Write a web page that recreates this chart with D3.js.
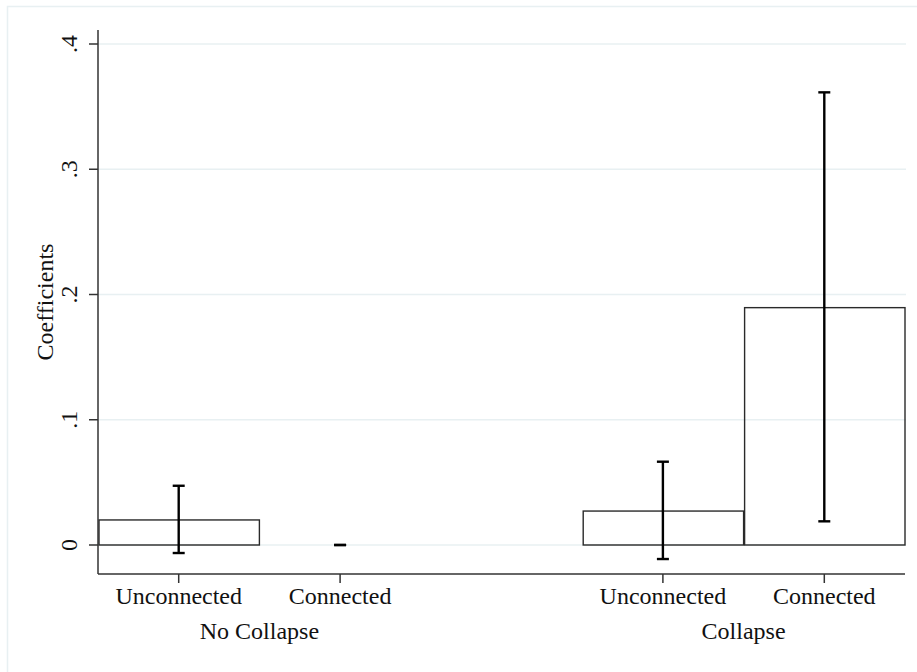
<!DOCTYPE html>
<html>
<head>
<meta charset="utf-8">
<script src="https://cdn.jsdelivr.net/npm/d3@7"></script>
<style>
  body { margin: 0; background: #fff; }
  text { font-family: "Liberation Serif", serif; fill: #111; }
</style>
</head>
<body>
<svg id="chart"></svg>
<script>
// data
var groups = ["No Collapse", "Collapse"];
var categories = ["Unconnected", "Connected"];
var slots = ["nc_u", "nc_c", "gap", "c_u", "c_c"];
var barSlots = ["nc_u", "nc_c", "c_u", "c_c"];
var barGroup = [0, 0, 1, 1];
var coefs = [0.020, 0.0, 0.0271, 0.1895];
var ciLow = [-0.0064, 0.0, -0.0112, 0.0189];
var ciHigh = [0.0473, 0.0, 0.0665, 0.3614];
var yTicks = [0, 0.1, 0.2, 0.3, 0.4];
var yTickLabels = ["0", ".1", ".2", ".3", ".4"];

var w = 917;
var h = 672;
var fontSize = "24px";

var svg = d3.select("#chart")
            .attr("width", w)
            .attr("height", h);

// outer frame (runs off right and bottom like the original)
svg.append("rect")
   .attr("x", 7.5)
   .attr("y", 6.5)
   .attr("width", w)
   .attr("height", h)
   .attr("fill", "none")
   .attr("stroke", "#e8f0f2")
   .attr("stroke-width", 1.5);

var plotLeft = 98, plotRight = 905, plotTop = 30, plotBottom = 574;

var x = d3.scaleBand()
          .domain(slots)
          .range([plotLeft, plotRight])
          .padding(0);

var y = d3.scaleLinear()
          .domain([0, 0.4])
          .range([545, 44]);

// gridlines
svg.append("g")
   .selectAll("line")
   .data(yTicks)
   .enter()
   .append("line")
   .attr("x1", plotLeft)
   .attr("x2", plotRight + 1)
   .attr("y1", function(d){ return y(d); })
   .attr("y2", function(d){ return y(d); })
   .attr("stroke", "#e8f0f2")
   .attr("stroke-width", 1.5);

// bars
svg.append("g")
   .selectAll("rect")
   .data(coefs)
   .enter()
   .append("rect")
   .attr("x", function(d, i){ return x(barSlots[i]) + 1; })
   .attr("width", function(d){ return d > 0 ? x.bandwidth() - 1 : 0; })
   .attr("y", function(d){ return y(d); })
   .attr("height", function(d){ return y(0) - y(d); })
   .attr("fill", "none")
   .attr("stroke", function(d){ return d > 0 ? "#2a2a2a" : "none"; })
   .attr("stroke-width", 1.4);

// error bars
var cap = 6;
var eb = svg.append("g")
            .attr("stroke", "#000")
            .attr("stroke-width", 2.4);

coefs.forEach(function(d, i){
  var cx = x(barSlots[i]) + x.bandwidth() / 2;
  eb.append("line")
    .attr("x1", cx).attr("x2", cx)
    .attr("y1", y(ciLow[i])).attr("y2", y(ciHigh[i]));
  eb.append("line")
    .attr("x1", cx - cap).attr("x2", cx + cap)
    .attr("y1", y(ciHigh[i])).attr("y2", y(ciHigh[i]));
  eb.append("line")
    .attr("x1", cx - cap).attr("x2", cx + cap)
    .attr("y1", y(ciLow[i])).attr("y2", y(ciLow[i]));
});

// y axis
svg.append("line")
   .attr("x1", plotLeft).attr("x2", plotLeft)
   .attr("y1", plotTop).attr("y2", plotBottom)
   .attr("stroke", "#333")
   .attr("stroke-width", 1.5);

svg.append("g")
   .selectAll("line")
   .data(yTicks)
   .enter()
   .append("line")
   .attr("x1", plotLeft - 9)
   .attr("x2", plotLeft)
   .attr("y1", function(d){ return y(d); })
   .attr("y2", function(d){ return y(d); })
   .attr("stroke", "#333")
   .attr("stroke-width", 1.5);

svg.append("g")
   .selectAll("text")
   .data(yTicks)
   .enter()
   .append("text")
   .attr("transform", function(d){ return "translate(77," + y(d) + ") rotate(-90)"; })
   .style("text-anchor", "middle")
   .style("font-size", fontSize)
   .text(function(d, i){ return yTickLabels[i]; });

svg.append("text")
   .attr("transform", "translate(53," + ((plotTop + plotBottom) / 2) + ") rotate(-90)")
   .style("text-anchor", "middle")
   .style("font-size", fontSize)
   .text("Coefficients");

// x axis
svg.append("line")
   .attr("x1", plotLeft).attr("x2", plotRight)
   .attr("y1", plotBottom).attr("y2", plotBottom)
   .attr("stroke", "#333")
   .attr("stroke-width", 1.5);

svg.append("g")
   .selectAll("line")
   .data(barSlots)
   .enter()
   .append("line")
   .attr("x1", function(d){ return x(d) + x.bandwidth() / 2; })
   .attr("x2", function(d){ return x(d) + x.bandwidth() / 2; })
   .attr("y1", plotBottom)
   .attr("y2", plotBottom + 9)
   .attr("stroke", "#333")
   .attr("stroke-width", 1.5);

svg.append("g")
   .selectAll("text")
   .data(barSlots)
   .enter()
   .append("text")
   .attr("x", function(d){ return x(d) + x.bandwidth() / 2; })
   .attr("y", 604)
   .style("text-anchor", "middle")
   .style("font-size", fontSize)
   .text(function(d, i){ return categories[i % 2]; });

// group labels centred under each pair
svg.append("g")
   .selectAll("text")
   .data(groups)
   .enter()
   .append("text")
   .attr("x", function(d, g){
     var s = barSlots.filter(function(b, i){ return barGroup[i] == g; });
     return (x(s[0]) + x(s[s.length - 1]) + x.bandwidth()) / 2;
   })
   .attr("y", 639)
   .style("text-anchor", "middle")
   .style("font-size", fontSize)
   .text(function(d){ return d; });
</script>
</body>
</html>
